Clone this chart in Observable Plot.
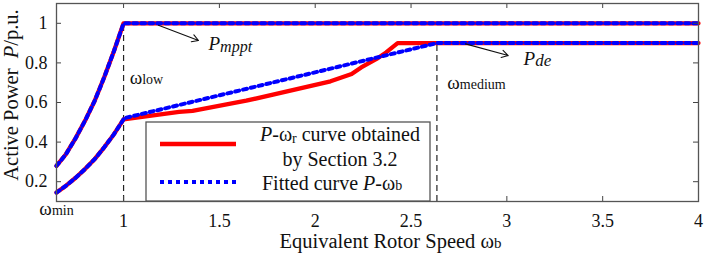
<!DOCTYPE html>
<html><head><meta charset="utf-8">
<script src="https://cdn.jsdelivr.net/npm/d3@7"></script>
<script src="https://cdn.jsdelivr.net/npm/@observablehq/plot@0.6"></script>
<style>
body{margin:0;background:#fff;}
#wrap{position:relative;width:706px;height:256px;}
#wrap svg, #wrap svg text{font-family:"Liberation Serif","DejaVu Serif",serif !important;}
</style></head><body><div id="wrap"></div>
<script>
// ---- data ----
const mpptSpeed = [0.65,0.70,0.75,0.80,0.85,0.90,0.95,1.00,4.00];
const mpptPower = [0.28,0.34,0.42,0.51,0.61,0.73,0.86,1.00,1.00];
const lowSpeed  = [0.65,0.70,0.75,0.80,0.85,0.90,0.95,1.00];
const lowPower  = [0.145,0.18,0.22,0.265,0.315,0.375,0.44,0.515];
const sectionSpeed = [1.00,1.29,1.36,1.64,2.08,2.19,2.24,2.32,2.37,2.43,4.00];
const sectionPower = [0.515,0.553,0.558,0.609,0.707,0.744,0.777,0.82,0.853,0.90,0.90];
const fittedSpeed = [1.00,2.635,4.00];
const fittedPower = [0.52,0.90,0.90];
const xTicks = [1,1.5,2,2.5,3,3.5,4];
const yTicks = [0.2,0.4,0.6,0.8,1];
const xDomain = [0.65,4];
const yDomain = [0.1,1.1];
const markers = [{w:1.0,p:1.0,label:"ωlow"},{w:2.635,p:0.9,label:"ωmedium"}];
const annotations = [
  {x:1.032,y:0.691,label:"ωlow"},
  {x:2.689,y:0.669,label:"ωmedium"},
  {x:1.443,y:0.863,label:"Pmppt"},
  {x:3.087,y:0.787,label:"Pde"}
];
const arrows = [
  {x1:1.182,y1:0.99,x2:1.391,y2:0.913},
  {x1:2.784,y1:0.896,x2:3.007,y2:0.837}
];
const legendLabels = [["P-ωr curve obtained","by Section 3.2"],["Fitted curve P-ωb"]];
const xLabel = "Equivalent Rotor Speed ωb";
const yLabel = "Active Power  P/p.u.";
const minLabel = "ωmin";

const RED = "#ff0000", BLUE = "#0000ff";
const W = 706, H = 256, mL = 56, mR = 8, mT = 3, mB = 55;
const innerH = H - mT - mB, innerW = W - mL - mR;

const rows = (xs, ys, curve) => xs.map((x,i)=>({x, y: ys[i], curve}));
const redData = [...rows(mpptSpeed, mpptPower, "mppt"), ...rows(lowSpeed, lowPower, "de"), ...rows(sectionSpeed, sectionPower, "de")];
const blueData = [...rows(mpptSpeed, mpptPower, "mppt"), ...rows(lowSpeed, lowPower, "de"), ...rows(fittedSpeed, fittedPower, "de")];

const FONT = "'Liberation Serif', 'DejaVu Serif', serif";
const plot = Plot.plot({
  width: W, height: H, marginLeft: mL, marginRight: mR, marginTop: mT, marginBottom: mB,
  x: {domain: xDomain},
  y: {domain: yDomain},
  style: {fontFamily: FONT, fontSize: "18px", color: "#111", background: "#fff", overflow: "visible"},
  marks: [
    Plot.ruleX(markers, {x: "w", y1: yDomain[0], y2: "p", stroke: "#222", strokeWidth: 1.2, strokeDasharray: "6,4"}),
    Plot.line(redData, {x: "x", y: "y", z: "curve", stroke: RED, strokeWidth: 4.3}),
    Plot.line(blueData, {x: "x", y: "y", z: "curve", stroke: BLUE, strokeWidth: 4, strokeDasharray: "4,4"}),
    Plot.tickX(xTicks, {x: d=>d, insetTop: innerH - 5, stroke: "#444"}),
    Plot.tickX(xTicks, {x: d=>d, insetBottom: innerH - 5, stroke: "#444"}),
    Plot.tickY(yTicks, {y: d=>d, insetLeft: innerW - 5, stroke: "#444"}),
    Plot.tickY(yTicks, {y: d=>d, insetRight: innerW - 5, stroke: "#444"}),
    Plot.frame({stroke: "#555", strokeWidth: 1.3}),
    Plot.axisX({ticks: xTicks, tickSize: 0, tickPadding: 13, tickFormat: d=>String(d), label: null, fontSize: 18}),
    Plot.axisY({ticks: yTicks, tickSize: 0, tickPadding: 9, tickFormat: d=>String(d), label: null, fontSize: 18}),
    Plot.arrow(arrows, {x1: "x1", y1: "y1", x2: "x2", y2: "y2", stroke: "#111", strokeWidth: 1.1, headLength: 10}),
    Plot.text(annotations, {x: "x", y: "y", text: "label", textAnchor: "start", lineAnchor: "bottom", fontSize: 19}),
    Plot.text([minLabel], {text: d=>d, frameAnchor: "bottom-left", textAnchor: "middle", dy: 13, fontSize: 19}),
    Plot.text([xLabel], {text: d=>d, frameAnchor: "bottom", textAnchor: "middle", lineAnchor: "bottom", dx: 13, dy: 46, fontSize: 20.5}),
    Plot.text([yLabel], {text: d=>d, frameAnchor: "left", textAnchor: "middle", lineAnchor: "bottom", dx: -39, dy: -7.5, rotate: -90, fontSize: 20.5})
  ]
});
document.getElementById("wrap").appendChild(plot);

const it = s => `<tspan font-style="italic">${s}</tspan>`;
const sub = (s, size, dy, italic) => `<tspan font-size="${size}" dy="${dy}"${italic ? ' font-style="italic"' : ''}>${s}</tspan>`;
const rich = {
  "ωlow": "ω" + sub("low", 14, 0),
  "ωmedium": "ω" + sub("medium", 14, 0),
  "ωmin": "ω" + sub("min", 14, 0),
  "Pmppt": it("P") + sub("mppt", 16, 1.5, true),
  "Pde": it("P") + sub("de", 17, 1, true),
  "Equivalent Rotor Speed ωb": "Equivalent Rotor Speed ω" + sub("b", 15, 0),
  "Active Power  P/p.u.": "Active Power&#160;&#160;" + it("P") + "/p.u.",
  "P-ωr curve obtained": it("P") + "-ω" + sub("r", 14, 2) + '<tspan dy="-2"> curve obtained</tspan>',
  "by Section 3.2": "by Section 3.2",
  "Fitted curve P-ωb": "Fitted curve " + it("P") + "-ω" + sub("b", 14, 0)
};
const svg = d3.select(plot.tagName.toLowerCase() === "svg" ? plot : plot.querySelector("svg"));
svg.selectAll("text").each(function(){
  const t = this.textContent;
  if (rich[t] !== undefined && this.children.length === 0) this.innerHTML = rich[t];
});

// legend (drawn inside the SVG, on top)
const lg = svg.append("g").attr("transform", `translate(146,122)`).attr("font-size", 20).attr("fill", "#111");
lg.append("rect").attr("width", 284).attr("height", 79).attr("fill", "#fff").attr("stroke", "#555").attr("stroke-width", 1.3);
lg.append("line").attr("x1", 14).attr("x2", 90).attr("y1", 22).attr("y2", 22).attr("stroke", RED).attr("stroke-width", 4.3);
lg.append("line").attr("x1", 14).attr("x2", 90).attr("y1", 60).attr("y2", 60).attr("stroke", BLUE).attr("stroke-width", 4).attr("stroke-dasharray", "4,4");
lg.append("text").attr("x", 274).attr("y", 19).attr("text-anchor", "end").html(rich[legendLabels[0][0]]);
lg.append("text").attr("x", 194).attr("y", 44).attr("text-anchor", "middle").html(rich[legendLabels[0][1]]);
lg.append("text").attr("x", 116).attr("y", 68).attr("text-anchor", "start").html(rich[legendLabels[1][0]]);
</script></body></html>
